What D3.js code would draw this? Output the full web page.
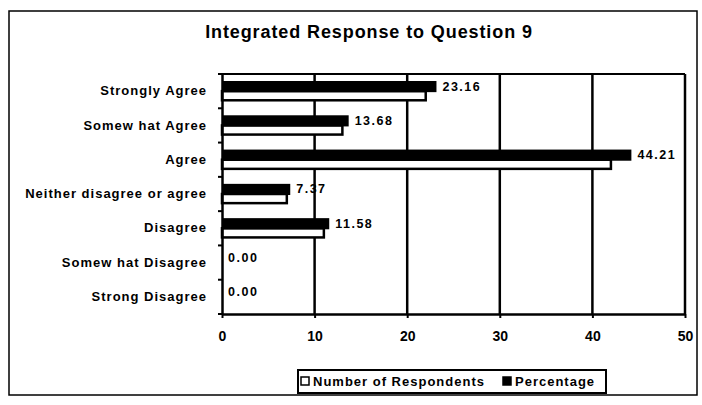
<!DOCTYPE html>
<html>
<head>
<meta charset="utf-8">
<script src="https://cdn.jsdelivr.net/npm/d3@7"></script>
<style>
  body { margin: 0; background: #fff; }
  svg { display: block; font-family: "Liberation Sans", Arial, sans-serif; }
</style>
</head>
<body>
<div id="chart"></div>
<script>
// categories, top to bottom
const categories = [
  "Strongly Agree",
  "Somew hat Agree",
  "Agree",
  "Neither disagree or agree",
  "Disagree",
  "Somew hat Disagree",
  "Strong Disagree"
];
const respondents = [22, 13, 42, 7, 11, 0, 0];
const percentage = [23.16, 13.68, 44.21, 7.37, 11.58, 0.00, 0.00];
const xTicks = [0, 10, 20, 30, 40, 50];
const seriesNames = ["Percentage", "Number of Respondents"];

const W = 702, H = 405;
const margin = { top: 74, right: 17, bottom: 91, left: 222 };

const svg = d3.select("#chart").append("svg")
  .attr("width", W).attr("height", H);

// outer frame
svg.append("rect")
  .attr("x", 9).attr("y", 11)
  .attr("width", 688).attr("height", 384)
  .attr("fill", "none").attr("stroke", "#000").attr("stroke-width", 1.5);

svg.append("text")
  .attr("x", 369).attr("y", 38)
  .attr("text-anchor", "middle")
  .attr("font-size", 18).attr("font-weight", "bold")
  .attr("letter-spacing", 0.9)
  .text("Integrated Response to Question 9");

const x = d3.scaleLinear().domain([0, 50]).range([margin.left, W - margin.right]);
const y = d3.scaleBand().domain(categories).range([margin.top, H - margin.bottom]);
const ySub = d3.scaleBand().domain(seriesNames)
  .range([7, y.bandwidth() - 7]);

// grid lines
svg.append("g").selectAll("line")
  .data(xTicks.slice(1))
  .join("line")
  .attr("x1", d => x(d)).attr("x2", d => x(d))
  .attr("y1", margin.top).attr("y2", H - margin.bottom)
  .attr("stroke", "#000").attr("stroke-width", 2.5);

// top border of plot
svg.append("line")
  .attr("x1", x(0)).attr("x2", x(50))
  .attr("y1", margin.top).attr("y2", margin.top)
  .attr("stroke", "#000").attr("stroke-width", 2);

const rows = categories.map((c, i) => ({ cat: c, pct: percentage[i], num: respondents[i] }));

// number of respondents (white, outlined)
svg.append("g").selectAll("rect")
  .data(rows.filter(d => d.num > 0))
  .join("rect")
  .attr("x", x(0))
  .attr("y", d => y(d.cat) + ySub("Number of Respondents"))
  .attr("width", d => x(d.num) - x(0))
  .attr("height", ySub.bandwidth() - 1)
  .attr("fill", "#fff").attr("stroke", "#000").attr("stroke-width", 2.5);

// percentage (black)
svg.append("g").selectAll("rect")
  .data(rows.filter(d => d.pct > 0))
  .join("rect")
  .attr("x", x(0))
  .attr("y", d => y(d.cat) + ySub("Percentage"))
  .attr("width", d => x(d.pct) - x(0))
  .attr("height", ySub.bandwidth() + 1)
  .attr("fill", "#000");

// value labels
svg.append("g").selectAll("text")
  .data(rows)
  .join("text")
  .attr("x", d => x(d.pct) + 6)
  .attr("y", d => y(d.cat) + ySub("Percentage") + ySub.bandwidth() / 2 + 4.5)
  .attr("font-size", 12.5).attr("font-weight", "bold")
  .attr("letter-spacing", 1.5)
  .text(d => d.pct.toFixed(2));

// y axis
const yAxis = svg.append("g")
  .attr("transform", `translate(${x(0)},0)`)
  .call(d3.axisLeft(y).tickSize(0).tickPadding(15));
yAxis.select(".domain").attr("stroke-width", 2.5);
yAxis.selectAll("text").attr("font-size", 13).attr("font-weight", "bold")
  .attr("font-family", "inherit").attr("letter-spacing", 1);
// category boundary ticks
yAxis.append("g").selectAll("line")
  .data(d3.range(categories.length + 1))
  .join("line")
  .attr("x1", -4).attr("x2", 0)
  .attr("y1", i => margin.top + i * y.step())
  .attr("y2", i => margin.top + i * y.step())
  .attr("stroke", "#000").attr("stroke-width", 2);

// x axis
const xAxis = svg.append("g")
  .attr("transform", `translate(0,${H - margin.bottom})`)
  .call(d3.axisBottom(x).tickValues(xTicks).tickSize(4).tickPadding(13).tickSizeOuter(0));
xAxis.select(".domain").attr("stroke-width", 2.5);
xAxis.selectAll(".tick line").attr("stroke-width", 2);
xAxis.selectAll("text").attr("font-size", 14).attr("font-weight", "bold")
  .attr("font-family", "inherit");

// legend
const lg = svg.append("g").attr("transform", "translate(298,370)");
lg.append("rect").attr("width", 308).attr("height", 23)
  .attr("fill", "#fff").attr("stroke", "#000").attr("stroke-width", 2);
const legendItems = [
  { name: "Number of Respondents", fill: "#fff", x: 3 },
  { name: "Percentage", fill: "#000", x: 205 }
];
const li = lg.selectAll("g.item").data(legendItems).join("g")
  .attr("class", "item")
  .attr("transform", d => `translate(${d.x},7)`);
li.append("rect").attr("width", 8).attr("height", 8)
  .attr("fill", d => d.fill).attr("stroke", "#000").attr("stroke-width", 1.5);
li.append("text").attr("x", 12).attr("y", 9)
  .attr("font-size", 13).attr("font-weight", "bold")
  .attr("letter-spacing", 1)
  .text(d => d.name);
</script>
</body>
</html>
